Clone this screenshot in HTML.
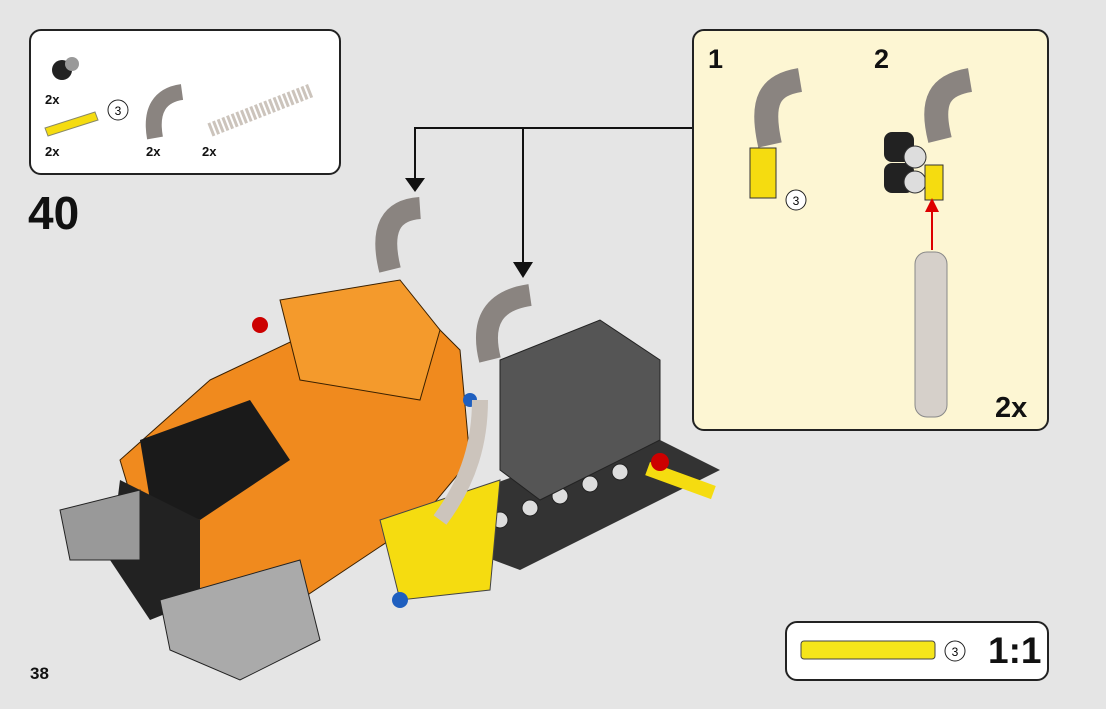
<!DOCTYPE html>
<html><head><meta charset="utf-8"><style>
body{margin:0;width:1106px;height:709px;background:#e5e5e5;overflow:hidden;font-family:"Liberation Sans",sans-serif;position:relative}
.box{position:absolute;border:2px solid #222;border-radius:12px;box-sizing:border-box}
.t{position:absolute;font-weight:bold;color:#111}
</style></head><body>
<div class="box" style="left:29px;top:29px;width:312px;height:146px;background:#fff"></div>
<div class="box" style="left:692px;top:29px;width:357px;height:402px;background:#fdf6d3"></div>
<div class="box" style="left:785px;top:621px;width:264px;height:60px;background:#fff"></div>
<div class="t" style="left:28px;top:186px;font-size:46px">40</div>
<div class="t" style="left:30px;top:664px;font-size:17px">38</div>
<div class="t" style="left:45px;top:92px;font-size:13px">2x</div>
<div class="t" style="left:45px;top:144px;font-size:13px">2x</div>
<div class="t" style="left:146px;top:144px;font-size:13px">2x</div>
<div class="t" style="left:202px;top:144px;font-size:13px">2x</div>
<div class="t" style="left:708px;top:44px;font-size:27px">1</div>
<div class="t" style="left:874px;top:44px;font-size:27px">2</div>
<div class="t" style="left:995px;top:392px;font-size:29px">2x</div>
<div class="t" style="left:988px;top:630px;font-size:37px">1:1</div>
<svg width="1106" height="709" style="position:absolute;left:0;top:0">
<g font-family="Liberation Sans" font-size="12" text-anchor="middle">
<circle cx="118" cy="110" r="10" fill="#fff" stroke="#222"/><text x="118" y="115">3</text>
<circle cx="796" cy="200" r="10" fill="#fff" stroke="#222"/><text x="796" y="205">3</text>
<circle cx="955" cy="651" r="10" fill="#fff" stroke="#222"/><text x="955" y="656">3</text>
</g>
<circle cx="62" cy="70" r="10" fill="#222"/><circle cx="72" cy="64" r="7" fill="#999"/>
<polygon points="45,128 95,112 98,120 48,136" fill="#f5dc10" stroke="#886" />
<path d="M155,138 C150,110 160,95 182,92" stroke="#8a8480" stroke-width="16" fill="none"/>
<path d="M210,130 L312,90" stroke="#ccc4bc" stroke-width="14" stroke-dasharray="3 2"/>
<rect x="801" y="641" width="134" height="18" rx="3" fill="#f5e51a" stroke="#444"/>
<path d="M692,128 H415 V180 M523,128 V265" stroke="#111" stroke-width="2" fill="none"/>
<polygon points="405,178 425,178 415,192" fill="#111"/><polygon points="513,262 533,262 523,278" fill="#111"/>
<path d="M770,145 C760,100 770,85 800,80" stroke="#8a8480" stroke-width="24" fill="none"/>
<rect x="750" y="148" width="26" height="50" fill="#f5dc10" stroke="#333"/>
<path d="M940,140 C930,100 940,85 970,80" stroke="#8a8480" stroke-width="24" fill="none"/>
<rect x="884" y="132" width="30" height="30" rx="8" fill="#222"/><rect x="884" y="163" width="30" height="30" rx="8" fill="#222"/>
<circle cx="915" cy="157" r="11" fill="#ddd" stroke="#333"/><circle cx="915" cy="182" r="11" fill="#ddd" stroke="#333"/>
<rect x="925" y="165" width="18" height="35" fill="#f5dc10" stroke="#333"/>
<line x1="932" y1="250" x2="932" y2="210" stroke="#d00" stroke-width="2"/><polygon points="925,212 939,212 932,198" fill="#d00"/>
<rect x="915" y="252" width="32" height="165" rx="12" fill="#d6d0ca" stroke="#888"/>
<polygon points="450,500 640,430 720,470 520,570 440,540" fill="#333"/>
<g fill="#ddd" stroke="#222"><circle cx="500" cy="520" r="8"/><circle cx="530" cy="508" r="8"/><circle cx="560" cy="496" r="8"/><circle cx="590" cy="484" r="8"/><circle cx="620" cy="472" r="8"/></g>
<polygon points="500,360 600,320 660,360 660,440 540,500 500,470" fill="#555" stroke="#222"/>
<polygon points="210,380 400,290 460,350 470,460 420,520 300,600 220,610 150,560 120,460" fill="#f08a1e" stroke="#3a2000"/>
<polygon points="140,440 250,400 290,460 200,520 150,500" fill="#1a1a1a"/>
<polygon points="120,480 200,520 200,600 150,620 110,560" fill="#222"/>
<polygon points="280,300 400,280 440,330 420,400 300,380" fill="#f49a2c" stroke="#3a2000"/>
<polygon points="380,520 500,480 490,590 400,600" fill="#f5dc10" stroke="#444"/>
<polygon points="60,510 140,490 140,560 70,560" fill="#999" stroke="#222"/>
<polygon points="160,600 300,560 320,640 240,680 170,650" fill="#aaa" stroke="#222"/>
<rect x="650" y="462" width="70" height="14" fill="#f5dc10" transform="rotate(20 650 462)"/>
<circle cx="660" cy="462" r="9" fill="#c00"/>
<circle cx="400" cy="600" r="8" fill="#1f5fbf"/><circle cx="470" cy="400" r="7" fill="#1f5fbf"/><circle cx="260" cy="325" r="8" fill="#c00"/>
<path d="M390,270 C380,230 390,210 420,208" stroke="#8a8480" stroke-width="22" fill="none"/>
<path d="M490,360 C480,320 495,300 530,295" stroke="#8a8480" stroke-width="22" fill="none"/>
<path d="M440,520 C470,480 480,440 480,400" stroke="#ccc4bc" stroke-width="16" fill="none"/>
</svg>
</body></html>
